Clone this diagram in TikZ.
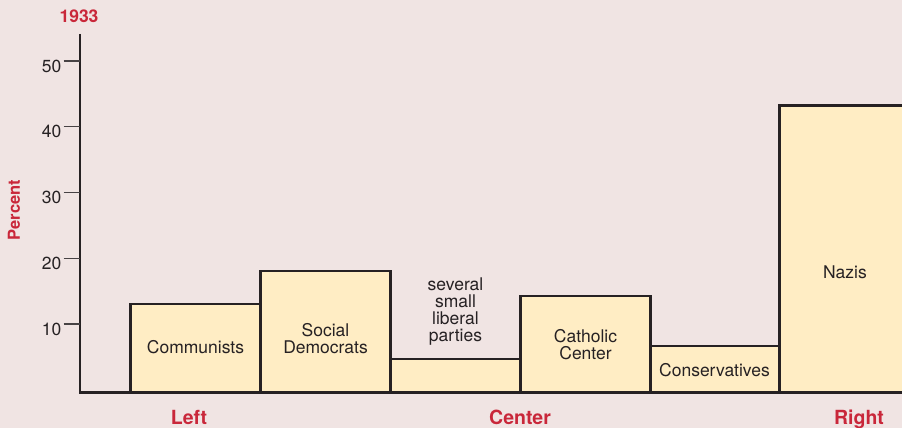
\documentclass[tikz,border=0pt]{standalone}
\usepackage{fontspec}
\setmainfont{TeX Gyre Heros}
\definecolor{bg}{RGB}{240,228,227}
\definecolor{barfill}{RGB}{255,237,196}
\definecolor{ink}{RGB}{38,33,35}
\definecolor{redlbl}{RGB}{201,39,58}
\begin{document}
\begin{tikzpicture}[x=1pt,y=-1pt,
  bar/.style={draw=ink, fill=barfill, line width=2.3pt},
  lbl/.style={text=ink, font=\fontsize{17.5}{17}\selectfont, align=center, inner sep=0pt},
  ticklbl/.style={text=ink, font=\fontsize{17.5}{17}\selectfont, inner sep=0pt, anchor=east},
  redtxt/.style={text=redlbl, font=\fontsize{19.5}{20}\selectfont\bfseries, inner sep=0pt},
  tickline/.style={draw=ink!85, line width=1.2pt},
  axisline/.style={draw=ink, line width=2.3pt}]
\useasboundingbox[fill=bg] (0,0) rectangle (902,428);

% bars
\draw[bar] (130.5,304) rectangle (260.5,392.5);
\draw[bar] (260.5,271) rectangle (390.5,392.5);
\draw[bar] (390.5,359) rectangle (520.5,392.5);
\draw[bar] (520.5,296) rectangle (650.5,392.5);
\draw[bar] (650.5,346) rectangle (779.5,392.5);
\draw[bar] (779.5,105.5) rectangle (910,392.5);

% axes
\coordinate (ytop) at (80,34);
\coordinate (origin) at (80,392.5);
\coordinate (xend) at (910,392.5);
\draw[axisline] (ytop) -- (origin);
\draw[axisline] (79,392.5) -- (xend);

% ticks
\foreach \v/\y in {50/61,40/126.7,30/192.3,20/258.3,10/324}{
  \coordinate (t\v a) at (63.5,\y);
  \coordinate (t\v b) at (80,\y);
  \draw[tickline] (t\v a) -- (t\v b);
  \node[ticklbl] (n\v) at (61.5,\y+5) {\v};
}

% bar labels
\node[lbl, anchor=base] (comm) at (195.5,353.3) {Communists};
\node[lbl, anchor=north] (spd) at (325.5,323.3) {Social\\Democrats};
\node[lbl, anchor=north] (lib) at (455.5,277.3) {several\\small\\liberal\\parties};
\node[lbl, anchor=north] (cath) at (585.5,329.3) {Catholic\\Center};
\node[lbl, anchor=base] (cons) at (714.5,376.7) {Conservatives};
\node[lbl, anchor=base] (nazi) at (845,278.3) {Nazis};

% red labels
\node[redtxt, font=\fontsize{17.5}{18}\selectfont\bfseries, anchor=base] (year) at (79,22.5) {1933};
\node[redtxt, font=\fontsize{16.5}{18}\selectfont\bfseries, rotate=90] (pct) at (14,210) {Percent};
\node[redtxt, anchor=base] (left) at (189,424) {Left};
\node[redtxt, anchor=base] (center) at (520,424) {Center};
\node[redtxt, anchor=base] (right) at (859,424) {Right};
\end{tikzpicture}
\end{document}
